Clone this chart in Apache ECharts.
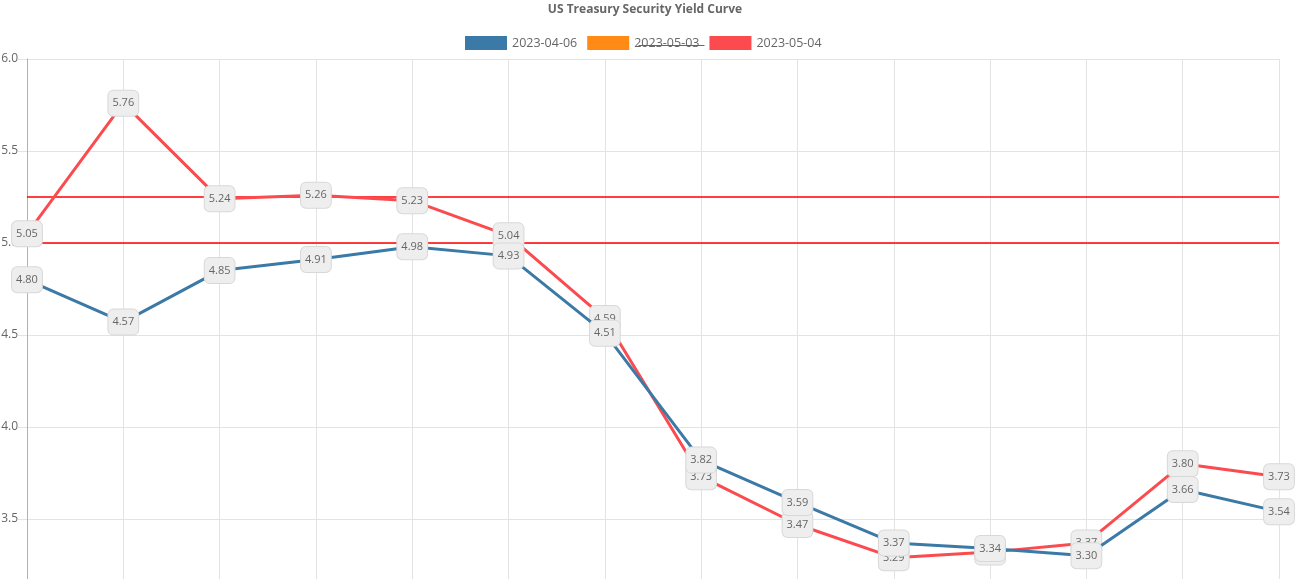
<!DOCTYPE html>
<html>
<head>
<meta charset="utf-8">
<script src="https://cdn.jsdelivr.net/npm/echarts@6/dist/echarts.min.js"></script>
<style>
html,body{margin:0;padding:0;overflow:hidden;background:#fff;}
#chart{width:1297px;height:650px;}
</style>
</head>
<body>
<div id="chart"></div>
<script>
const categories = ['Fed Funds','1 Mo','2 Mo','3 Mo','4 Mo','6 Mo','1 Yr','2 Yr','3 Yr','5 Yr','7 Yr','10 Yr','20 Yr','30 Yr'];
const yields20230406 = [4.80, 4.57, 4.85, 4.91, 4.98, 4.93, 4.51, 3.82, 3.59, 3.37, 3.34, 3.30, 3.66, 3.54];
const yields20230503 = [];
const yields20230504 = [5.05, 5.76, 5.24, 5.26, 5.23, 5.04, 4.59, 3.73, 3.47, 3.29, 3.32, 3.37, 3.80, 3.73];
const referenceLines = [5.25, 5.00];
const seriesNames = ['2023-04-06', '2023-05-03', '2023-05-04'];

const FONT = '"Open Sans", "Noto Sans", sans-serif';
const labelStyle = {
  show: true,
  position: 'inside',
  formatter: p => p.value.toFixed(2),
  fontFamily: FONT,
  fontSize: 11,
  lineHeight: 13,
  color: '#666',
  backgroundColor: '#eeeeee',
  borderColor: '#d8d8d8',
  borderWidth: 1,
  borderRadius: 5,
  padding: [7, 4, 5, 4]
};
const REF_RED = '#ff0000';

// Horizontal reference lines: one flat series per reference value, spanning all categories
const refSeries = referenceLines.map((v, i) => ({
  name: 'ref' + i, type: 'line', z: 1, silent: true,
  data: categories.map(() => v),
  symbol: 'none', showSymbol: false,
  lineStyle: {color: REF_RED, width: 1.3, type: 'solid'},
  itemStyle: {color: REF_RED},
  emphasis: {disabled: true},
  label: {show: false}
}));

const chart = echarts.init(document.getElementById('chart'));
chart.setOption({
  animation: false,
  title: {
    text: 'US Treasury Security Yield Curve',
    left: 645, top: 3, textAlign: 'center', padding: 0,
    textStyle: {fontFamily: FONT, fontSize: 12, fontWeight: 'bold', color: '#666', lineHeight: 14}
  },
  legend: {
    data: seriesNames,
    left: 465, top: 36, padding: 0,
    itemWidth: 42, itemHeight: 14, itemGap: 10,
    icon: 'rect',
    selectedMode: false,
    textStyle: {fontFamily: FONT, fontSize: 12.5, color: '#666'}
  },
  graphic: [{
    type: 'line', left: 636, top: 43,
    shape: {x1: 0, y1: 0, x2: 66, y2: 0},
    style: {stroke: '#666', lineWidth: 1}
  }],
  grid: {left: 27, right: 18, top: 59, bottom: 39, containLabel: false, outerBoundsMode: 'none'},
  xAxis: {
    type: 'category',
    data: categories,
    boundaryGap: false,
    axisLine: {show: true, lineStyle: {color: '#b8b8b8'}},
    axisTick: {show: true, length: 8, lineStyle: {color: '#e3e3e3'}},
    axisLabel: {fontFamily: FONT, fontSize: 12, color: '#666'},
    splitLine: {show: true, lineStyle: {color: '#e3e3e3'}}
  },
  yAxis: {
    type: 'value',
    min: 3.0, max: 6.0, interval: 0.5,
    axisLine: {show: true, lineStyle: {color: '#b0b0b0'}},
    axisTick: {show: true, length: 9, lineStyle: {color: '#e3e3e3'}},
    axisLabel: {fontFamily: FONT, fontSize: 12, color: '#666', margin: 9, formatter: v => v.toFixed(1)},
    splitLine: {show: true, lineStyle: {color: '#e3e3e3'}}
  },
  series: refSeries.concat([
    {
      name: seriesNames[2], type: 'line', data: yields20230504, z: 2,
      color: '#fb4b4f',
      itemStyle: {color: '#fb4b4f'},
      lineStyle: {width: 3, color: '#fb4b4f'},
      symbol: 'circle', symbolSize: 4, showSymbol: true,
      label: labelStyle
    },
    {
      name: seriesNames[1], type: 'line', data: yields20230503, z: 2,
      color: '#ff8a15', itemStyle: {color: '#ff8a15'}, lineStyle: {width: 3, color: '#ff8a15'}
    },
    {
      name: seriesNames[0], type: 'line', data: yields20230406, z: 3,
      color: '#3b79a6',
      itemStyle: {color: '#3b79a6'},
      lineStyle: {width: 3, color: '#3b79a6'},
      symbol: 'circle', symbolSize: 4, showSymbol: true,
      label: labelStyle
    }
  ])
});
</script>
</body>
</html>
